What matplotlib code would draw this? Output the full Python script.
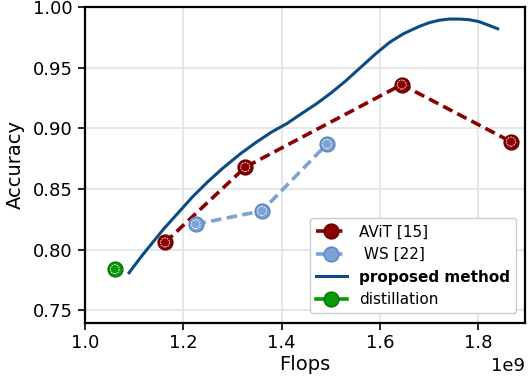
import matplotlib.pyplot as plt

# AViT [15]
avit_flops = [1.163e9, 1.326e9, 1.644e9, 1.866e9]
avit_acc = [0.806, 0.868, 0.936, 0.889]

# WS [22]
ws_flops = [1.225e9, 1.360e9, 1.492e9]
ws_acc = [0.821, 0.832, 0.887]

# proposed method (curve)
prop_flops = [1.090, 1.100, 1.120, 1.140, 1.159, 1.180, 1.200, 1.220, 1.250,
              1.280, 1.316, 1.350, 1.380, 1.411, 1.440, 1.470, 1.500, 1.530,
              1.560, 1.590, 1.620, 1.648, 1.680, 1.700, 1.720, 1.740, 1.760,
              1.780, 1.800, 1.820, 1.839]
prop_acc = [0.781, 0.7865, 0.797, 0.807, 0.8165, 0.826, 0.835, 0.844, 0.856,
            0.867, 0.879, 0.889, 0.897, 0.904, 0.912, 0.920, 0.929, 0.939,
            0.950, 0.961, 0.971, 0.978, 0.984, 0.987, 0.989, 0.990, 0.990,
            0.9895, 0.988, 0.985, 0.982]
prop_flops = [f * 1e9 for f in prop_flops]

# distillation
dist_flops = [1.061e9]
dist_acc = [0.784]

c_avit = '#8b0000'
c_ws = '#7ca3d3'
c_prop = '#0b4c84'
c_dist = '#0a9a0a'

fig, ax = plt.subplots(figsize=(5.3, 3.84), dpi=100)
fig.subplots_adjust(left=0.160, right=0.991, top=0.982, bottom=0.160)

ax.plot(avit_flops, avit_acc, '--o', color=c_avit, lw=2.6, ms=10.5,
        mec='#6a0000', mew=1.2, dashes=(2.9, 1.5), label='AViT [15]')
ax.plot(ws_flops, ws_acc, '--o', color=c_ws, lw=2.6, ms=10.5,
        mec='#5f8ac0', mew=1.2, dashes=(2.9, 1.5), label=' WS [22]')
ax.plot(prop_flops, prop_acc, '-', color=c_prop, lw=2.2,
        solid_joinstyle='round', label='proposed method')
ax.plot(dist_flops, dist_acc, '-o', color=c_dist, lw=2.6, ms=10.5,
        mec='#087a08', mew=1.2, label='distillation')

# dotted white ring inside every marker
for xs, ys in [(avit_flops, avit_acc), (ws_flops, ws_acc), (dist_flops, dist_acc)]:
    ax.scatter(xs, ys, s=42, facecolors='none', edgecolors='white',
               linewidths=0.6, linestyles=(0, (2, 1.2)), zorder=5)

ax.set_xlim(1.0e9, 1.895e9)
ax.set_ylim(0.740, 1.0)
ax.set_yticks([0.75, 0.80, 0.85, 0.90, 0.95, 1.00])
ax.set_xlabel('Flops', fontsize=14, labelpad=2)
ax.set_ylabel('Accuracy', fontsize=14, labelpad=6)
ax.tick_params(labelsize=13, length=5, width=1.2)
ax.xaxis.get_offset_text().set_fontsize(13)
ax.grid(True, color='#e3e3e3', lw=1.2)
ax.set_axisbelow(True)
for s in ax.spines.values():
    s.set_linewidth(1.6)

leg = ax.legend(loc='lower right', fontsize=11, framealpha=1,
                borderaxespad=0.6)
for t in leg.get_texts():
    if t.get_text() == 'proposed method':
        t.set_fontweight('bold')

fig.savefig('out.png', dpi=100)
